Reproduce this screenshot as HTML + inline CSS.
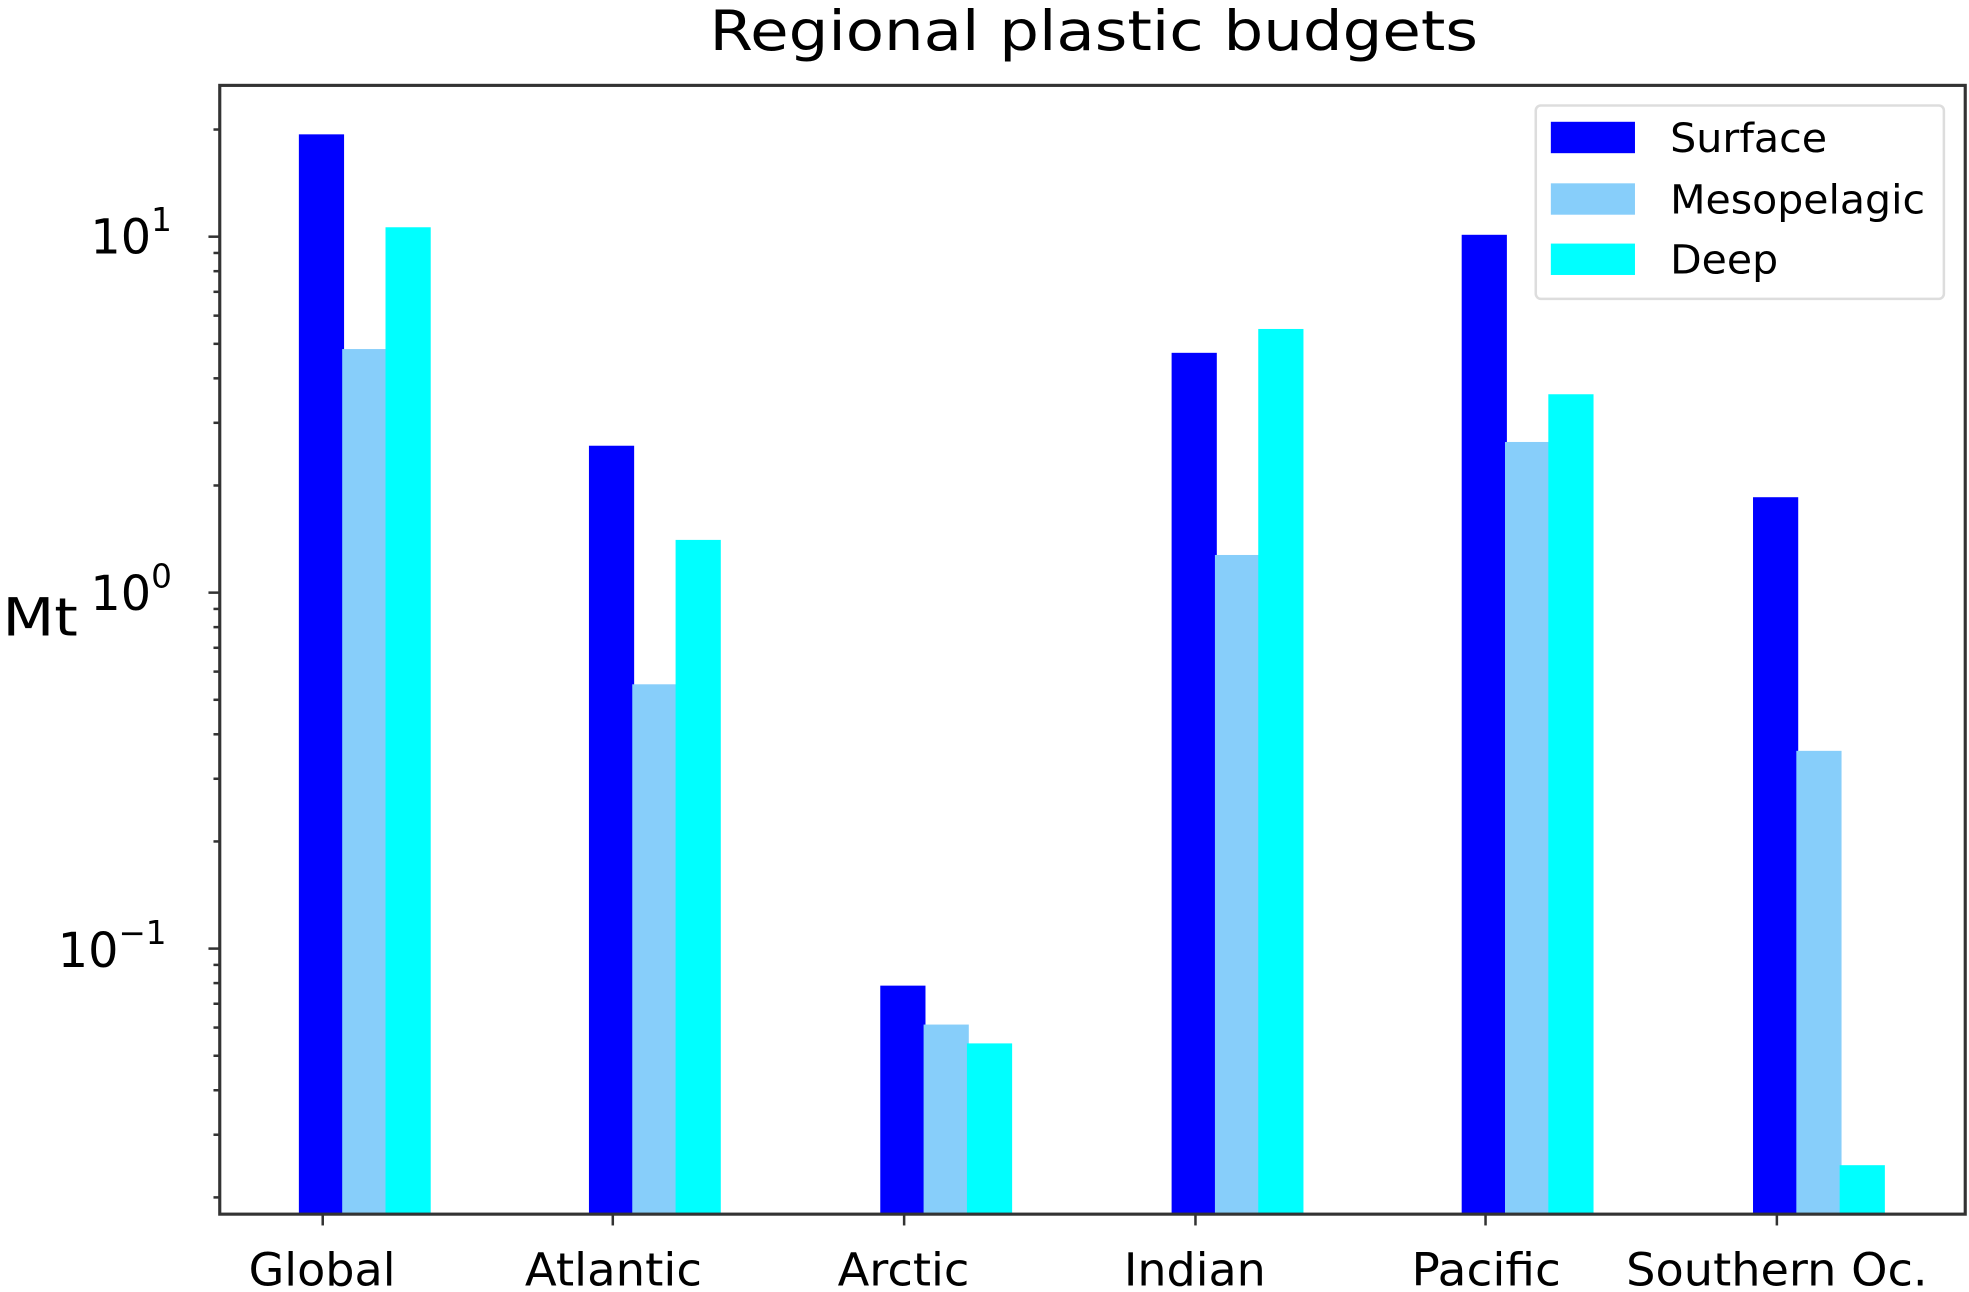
<!DOCTYPE html>
<html><head><meta charset="utf-8"><style>
html,body{margin:0;padding:0;background:#fff;width:1969px;height:1292px;overflow:hidden}
svg{display:block}
text{font-family:"DejaVu Sans","Liberation Sans",sans-serif;fill:#000}
</style></head><body>
<svg id="s" width="1969" height="1292" viewBox="0 0 1568 1029" preserveAspectRatio="none">
<text x="565" y="40" font-size="44" textLength="612" lengthAdjust="spacingAndGlyphs">Regional plastic budgets</text>
<g id="bars"></g>
<rect x="175" y="68" width="1390" height="899" fill="none" stroke="#333" stroke-width="2.5"/>
<g id="ticks" stroke="#333" stroke-width="2"></g>
<text x="72" y="202" font-size="38">10<tspan font-size="26" dy="-18">1</tspan></text>
<text x="72" y="486" font-size="38">10<tspan font-size="26" dy="-18">0</tspan></text>
<text x="46" y="770" font-size="38">10<tspan font-size="26" dy="-18">−1</tspan></text>
<text x="2" y="506" font-size="42" textLength="60" lengthAdjust="spacingAndGlyphs">Mt</text>
<g font-size="36">
<text x="198" y="1024" textLength="117" lengthAdjust="spacingAndGlyphs">Global</text>
<text x="418" y="1024" textLength="141" lengthAdjust="spacingAndGlyphs">Atlantic</text>
<text x="667" y="1024" textLength="105" lengthAdjust="spacingAndGlyphs">Arctic</text>
<text x="895" y="1024" textLength="113" lengthAdjust="spacingAndGlyphs">Indian</text>
<text x="1124" y="1024" textLength="119" lengthAdjust="spacingAndGlyphs">Pacific</text>
<text x="1295" y="1024" textLength="240" lengthAdjust="spacingAndGlyphs">Southern Oc.</text>
</g>
<rect x="1223" y="84" width="325" height="154" rx="4" fill="#fff" stroke="#ddd" stroke-width="2"/>
<rect x="1235" y="97" width="67" height="25" fill="#0000ff"/>
<rect x="1235" y="146" width="67" height="25" fill="#87cefa"/>
<rect x="1235" y="194" width="67" height="25" fill="#00ffff"/>
<g font-size="32">
<text x="1330" y="121" textLength="125" lengthAdjust="spacingAndGlyphs">Surface</text>
<text x="1330" y="170" textLength="203" lengthAdjust="spacingAndGlyphs">Mesopelagic</text>
<text x="1330" y="218" textLength="86" lengthAdjust="spacingAndGlyphs">Deep</text></g>
</svg>
<script>
var NS="http://www.w3.org/2000/svg";
function el(p,t,a){var e=document.createElementNS(NS,t);for(var k in a)e.setAttribute(k,a[k]);p.appendChild(e);return e;}
var bars=document.getElementById('bars'),ticks=document.getElementById('ticks');
var cs=[257,488,720,952,1183,1415];
var tops=[[107,278,181],[355,545,430],[785,816,831],[281,442,262],[187,352,314],[396,598,928]];
var cols=['#0000ff','#87cefa','#00ffff'];
for(var i=0;i<6;i++)for(var j=0;j<3;j++){
 var x=cs[i]-19+j*34.5;
 el(bars,'rect',{x:x,y:tops[i][j],width:36,height:967-tops[i][j],fill:cols[j]});
}
for(var i=0;i<6;i++)el(ticks,'line',{x1:cs[i],y1:967,x2:cs[i],y2:976});
function Y(v){return 472-283.5*Math.log10(v);}
for(var e=-2;e<=1;e++)for(var m=1;m<10;m++){
 var y=Y(m*Math.pow(10,e));
 if(y<68||y>967)continue;
 var len=(m==1)?9:5;
 el(ticks,'line',{x1:175-len,y1:y,x2:175,y2:y});
}
</script>
</body></html>
